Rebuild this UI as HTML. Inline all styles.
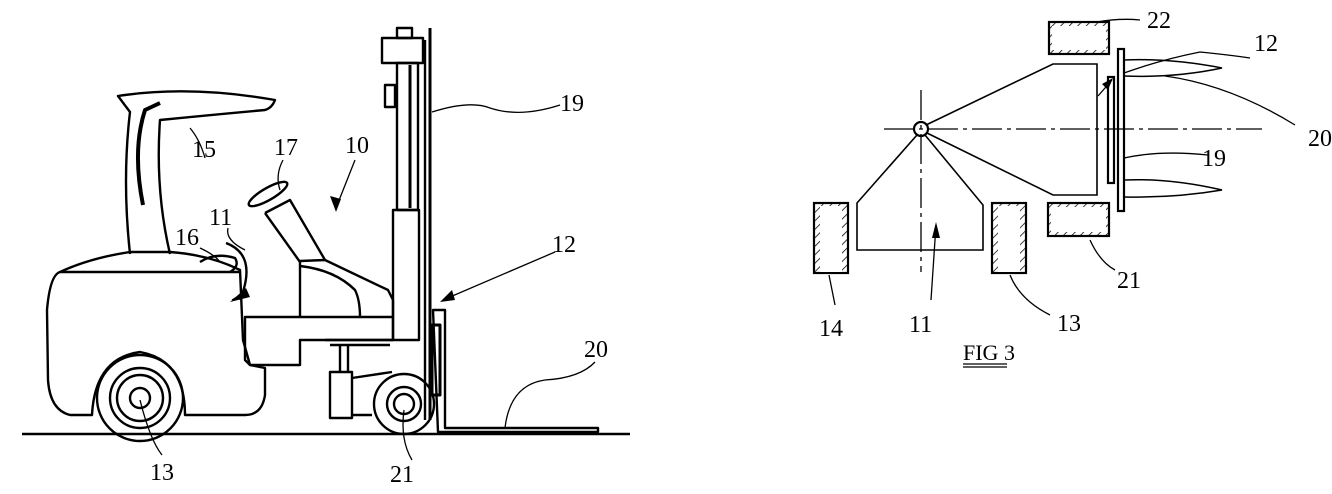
<!DOCTYPE html>
<html><head><meta charset="utf-8"><style>
html,body{margin:0;padding:0;background:#fff;width:1332px;height:494px;overflow:hidden}
svg{display:block}
text{font-family:"Liberation Serif",serif;font-size:24px;fill:#000}
</style></head><body>
<svg width="1332" height="494" viewBox="0 0 1332 494" xmlns="http://www.w3.org/2000/svg">
<defs>
<pattern id="h" width="6" height="6" patternUnits="userSpaceOnUse" patternTransform="rotate(45)">
<line x1="0" y1="0" x2="0" y2="6" stroke="#000" stroke-width="1.5"/></pattern>
</defs>
<g fill="none" stroke="#000" stroke-width="2.4" stroke-linejoin="round">
<line x1="22" y1="434" x2="630" y2="434"/>
<path d="M60 272 Q90 258 130 252 L170 252 Q210 255 240 270 L243 340 L250 365 L265 368 L265 395 Q262 415 245 415 L185 415 Q185 360 140 352 Q95 358 92 415 L70 415 Q50 410 48 380 L47 310 Q50 275 60 272 Z"/>
<path d="M60 272 L240 272"/>
<circle cx="140" cy="398" r="43"/>
<circle cx="140" cy="398" r="30"/>
<circle cx="140" cy="398" r="23"/>
<circle cx="140" cy="398" r="10"/>
<path d="M130 254 Q122 180 130 112 L118 96 Q190 85 275 100 Q272 108 265 110 Q210 115 160 120 Q155 190 170 254"/>
<path d="M143 205 Q132 150 145 110 L160 103" stroke-width="4"/>
<path d="M200 262 Q215 252 235 258 Q240 266 230 272"/>
<path d="M226 243 Q258 255 240 300"/>
<ellipse cx="268" cy="194" rx="22" ry="6" transform="rotate(-30 268 194)"/>
<path d="M265 213 L290 200 L325 260 M265 213 L300 262"/>
<path d="M300 317 L300 261 L325 260 L388 290 L393 300 L393 317"/>
<path d="M300 266 Q335 270 355 290 Q360 300 360 317"/>
<path d="M245 317 L393 317 L393 340 L300 340 L300 365 L250 365 L245 360 Z"/>
<path d="M325 340 L393 340 M330 345 L390 345"/>
<rect x="330" y="372" width="22" height="46"/>
<path d="M340 345 L340 372 M348 345 L348 372 M352 378 L392 372 M352 415 L372 415"/>
<rect x="382" y="38" width="41" height="25"/>
<rect x="397" y="28" width="15" height="10"/>
<rect x="397" y="63" width="21" height="147"/>
<line x1="410" y1="65" x2="410" y2="208" stroke-width="3"/>
<rect x="393" y="210" width="26" height="130"/>
<line x1="430" y1="28" x2="430" y2="420" stroke-width="3"/>
<line x1="425" y1="40" x2="425" y2="420"/>
<rect x="385" y="85" width="10" height="22"/>
<path d="M433 310 L445 310 L445 428 L598 428 L598 432 L438 432 Z"/>
<rect x="432" y="325" width="8" height="70" stroke-width="3"/>
<circle cx="404" cy="404" r="30"/>
<circle cx="404" cy="404" r="17"/>
<circle cx="404" cy="404" r="10"/>
<path d="M432 112 Q470 100 490 108 Q520 118 560 105" stroke-width="1.3"/>
<path d="M205 158 Q200 140 190 128" stroke-width="1.3"/>
<path d="M283 160 Q275 175 280 190" stroke-width="1.3"/>
<path d="M228 228 Q225 240 245 250" stroke-width="1.3"/>
<path d="M200 248 Q215 255 220 262" stroke-width="1.3"/>
<path d="M140 400 Q150 440 162 455" stroke-width="1.3"/>
<path d="M404 410 Q400 440 412 460" stroke-width="1.3"/>
<path d="M505 428 Q510 385 545 380 Q580 378 595 362" stroke-width="1.3"/>
<path d="M355 160 L336 208" stroke-width="1.3"/>
<path d="M555 252 L443 300" stroke-width="1.3"/>
<path d="M245 292 L232 300" stroke-width="1.3"/>
</g>
<g fill="#000">
<path d="M336 212 L330 196 L341 199 Z"/>
<path d="M440 302 L452 290 L455 300 Z"/>
<path d="M230 302 L246 288 L250 297 Z"/>
</g>
<text x="150" y="480">13</text>
<text x="390" y="482">21</text>
<text x="584" y="357">20</text>
<text x="552" y="252">12</text>
<text x="560" y="111">19</text>
<text x="345" y="153">10</text>
<text x="274" y="155">17</text>
<text x="192" y="157">15</text>
<text x="209" y="225">11</text>
<text x="175" y="245">16</text>

<g fill="none" stroke="#000" stroke-width="2.2">
<rect x="1049" y="22" width="60" height="32" fill="url(#h)"/>
<rect x="1052" y="26" width="54" height="24" fill="#fff" stroke="none"/>
<rect x="1048" y="203" width="61" height="33" fill="url(#h)"/>
<rect x="1051" y="207" width="55" height="25" fill="#fff" stroke="none"/>
<rect x="814" y="203" width="34" height="70" fill="url(#h)"/>
<rect x="820" y="206" width="22" height="66" fill="#fff" stroke="none"/>
<rect x="992" y="203" width="34" height="70" fill="url(#h)"/>
<rect x="998" y="206" width="22" height="66" fill="#fff" stroke="none"/>
<circle cx="921" cy="129" r="7"/>
<line x1="884" y1="129" x2="1262" y2="129" stroke-width="1.3" stroke-dasharray="30 5 4 5"/>
<line x1="921" y1="90" x2="921" y2="272" stroke-width="1.3" stroke-dasharray="30 5 4 5"/>
<path d="M926 125 L1053 64 L1097 64 L1097 195 L1053 195 L927 133" stroke-width="1.6"/>
<path d="M917 135 L857 203 L857 250 L983 250 L983 205 L925 135" stroke-width="1.6"/>
<rect x="1108" y="77" width="6" height="106"/>
<rect x="1118" y="49" width="6" height="162"/>
<path d="M1124 60 Q1170 58 1222 68 Q1175 78 1124 76" stroke-width="1.5"/>
<path d="M1124 180 Q1170 178 1222 190 Q1175 198 1124 197" stroke-width="1.5"/>
<path d="M1097 22 Q1120 18 1140 20" stroke-width="1.3"/>
<path d="M1124 73 Q1160 60 1200 52 Q1230 55 1250 58" stroke-width="1.3"/>
<path d="M1165 76 Q1230 85 1295 125" stroke-width="1.3"/>
<path d="M1124 158 Q1160 150 1208 155" stroke-width="1.3"/>
<path d="M1090 240 Q1100 262 1115 270" stroke-width="1.3"/>
<path d="M1010 275 Q1020 300 1050 315" stroke-width="1.3"/>
<path d="M829 275 L835 305" stroke-width="1.3"/>
<path d="M936 225 L931 300" stroke-width="1.3"/>
<path d="M1098 96 L1112 80" stroke-width="1.3"/>
<line x1="963" y1="364" x2="1007" y2="364" stroke-width="1.3"/>
<line x1="963" y1="367" x2="1007" y2="367" stroke-width="1.3"/>
</g>
<g fill="#000"><path d="M936 222 L932 238 L940 238 Z"/><path d="M1113 78 L1102 84 L1108 90 Z"/></g>
<text x="1147" y="28">22</text>
<text x="1254" y="51">12</text>
<text x="1308" y="146">20</text>
<text x="1202" y="166">19</text>
<text x="1117" y="288">21</text>
<text x="1057" y="331">13</text>
<text x="909" y="332">11</text>
<text x="819" y="336">14</text>
<text x="963" y="360" style="font-size:22px">FIG 3</text>
</svg>
</body></html>
